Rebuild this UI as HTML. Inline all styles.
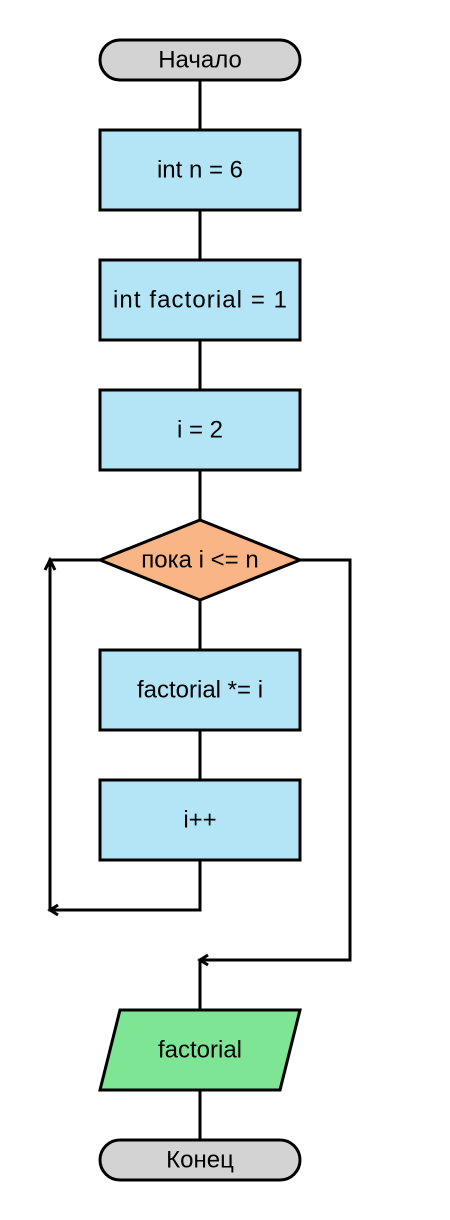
<!DOCTYPE html>
<html><head><meta charset="utf-8"><style>
html,body{margin:0;padding:0;background:#fff;width:450px;height:1220px;overflow:hidden}
text{font-family:"Liberation Sans",sans-serif;font-size:24px;fill:#000;text-anchor:middle;dominant-baseline:central}
</style></head><body>
<svg width="450" height="1220" viewBox="0 0 450 1220">
<g stroke="#000" stroke-width="3" fill="none">
<line x1="200" y1="80" x2="200" y2="130"/>
<line x1="200" y1="210" x2="200" y2="260"/>
<line x1="200" y1="340" x2="200" y2="390"/>
<line x1="200" y1="470" x2="200" y2="520"/>
<line x1="200" y1="600" x2="200" y2="650"/>
<line x1="200" y1="730" x2="200" y2="780"/>
<polyline points="200,860 200,910 50,910 50,560 100,560"/>
<polyline points="300,560 350,560 350,960 200,960 200,1010"/>
<line x1="200" y1="1090" x2="200" y2="1140"/>
<polyline points="45,570 50,560 55,570"/>
<polyline points="58,905 50,910 58,915"/>
<polyline points="208,955 200,960 208,965"/>
</g>
<g stroke="#000" stroke-width="3">
<rect x="100" y="40" width="200" height="40" rx="20" fill="#d3d3d3"/>
<rect x="100" y="130" width="200" height="80" fill="#b3e5f7"/>
<rect x="100" y="260" width="200" height="80" fill="#b3e5f7"/>
<rect x="100" y="390" width="200" height="80" fill="#b3e5f7"/>
<polygon points="200,520 300,560 200,600 100,560" fill="#f9b585"/>
<rect x="100" y="650" width="200" height="80" fill="#b3e5f7"/>
<rect x="100" y="780" width="200" height="80" fill="#b3e5f7"/>
<polygon points="120,1010 300,1010 280,1090 100,1090" fill="#7ee594"/>
<rect x="100" y="1140" width="200" height="40" rx="20" fill="#d3d3d3"/>
</g>
<text x="200" y="60">Начало</text>
<text x="200" y="170">int n = 6</text>
<text x="200" y="300" textLength="174">int factorial = 1</text>
<text x="200" y="430">i = 2</text>
<text x="200" y="560">пока i &lt;= n</text>
<text x="200" y="690">factorial *= i</text>
<text x="200" y="820">i++</text>
<text x="200" y="1050">factorial</text>
<text x="200" y="1160">Конец</text>
</svg>
</body></html>
